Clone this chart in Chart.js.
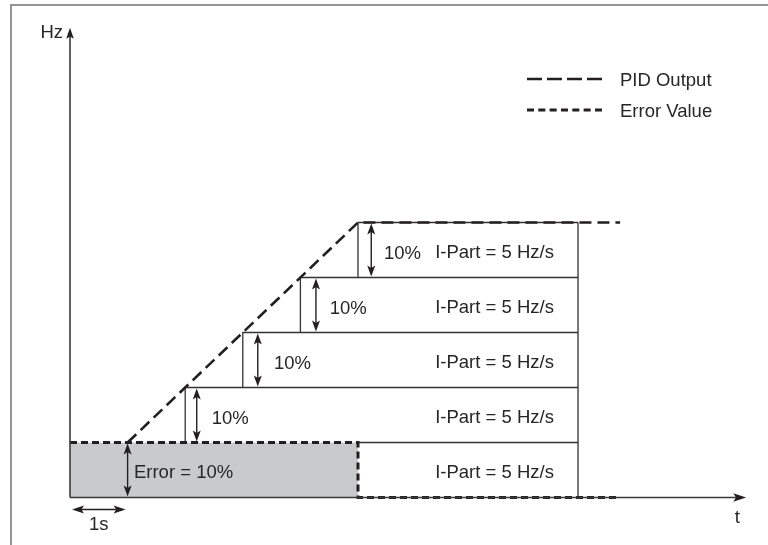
<!DOCTYPE html>
<html>
<head>
<meta charset="utf-8">
<script src="https://cdn.jsdelivr.net/npm/chart.js@4/dist/chart.umd.min.js"></script>
<style>
html,body{margin:0;padding:0;background:#fff;}
#wrap{width:768px;height:545px;position:relative;}
</style>
</head>
<body>
<div id="wrap"><canvas id="c" width="768" height="545"></canvas></div>
<script>
// ---- data (time in s, output in 10% steps) ----
const timeAxisEnd = 11.74;
const hzAxisEnd = 8.54;
const pidTime = [1, 5, 9.55];
const pidLevel = [1, 5, 5];
const errTime = [0, 5, 5, 9.5];
const errLevel = [1, 1, 0, 0];
const stepTime = [2, 3, 4, 5];
const stepFrom = [1, 2, 3, 4];
const boxEnd = 8.82;
const arrowTime = [1.0, 2.2, 3.26, 4.27, 5.23];
const arrowFrom = [0, 1, 2, 3, 4];
const pctTime = [2.46, 3.54, 4.51, 5.45];
const pctLevel = [1, 2, 3, 4];
const pctText = "10%";
const errText = "Error = 10%";
const errTextTime = 1.11;
const iPartTime = 6.34;
const iPartLevel = [0, 1, 2, 3, 4];
const iPartText = "I-Part = 5 Hz/s";
const seriesNames = ["PID Output", "Error Value"];
const yAxisTitle = "Hz";
const xAxisTitle = "t";
const unitText = "1s";

const INK = '#231f20';
const TEXT = '#262626';
const FONT = '18.5px "Liberation Sans", Arial, sans-serif';

// box outline points (built from the arrays above)
const boxPts = [];
stepTime.forEach((t, i) => {
  boxPts.push({x: t, y: stepFrom[i]}, {x: t, y: stepFrom[i] + 1}, {x: boxEnd, y: stepFrom[i] + 1}, {x: t, y: null});
});
boxPts.push({x: errTime[2], y: errLevel[1]}, {x: boxEnd, y: errLevel[1]}, {x: boxEnd, y: null});
boxPts.push({x: boxEnd, y: 0}, {x: boxEnd, y: pidLevel[2]});

function head(ctx, x, y, dx, dy, len, half) {
  const px = -dy, py = dx;
  ctx.beginPath();
  ctx.moveTo(x, y);
  ctx.lineTo(x - dx * len + px * half, y - dy * len + py * half);
  ctx.lineTo(x - dx * len * 0.78, y - dy * len * 0.78);
  ctx.lineTo(x - dx * len - px * half, y - dy * len - py * half);
  ctx.closePath();
  ctx.fill();
}
function dblV(ctx, x, y1, y2) {
  ctx.beginPath(); ctx.moveTo(x, y1 + 4); ctx.lineTo(x, y2 - 4); ctx.stroke();
  head(ctx, x, y1, 0, -1, 11, 4);
  head(ctx, x, y2, 0, 1, 11, 4);
}

const diagram = {
  id: 'diagram',
  afterDatasetsDraw(chart) {
    const ctx = chart.ctx;
    const xs = chart.scales.x, ys = chart.scales.y;
    const X = v => xs.getPixelForValue(v), Y = v => ys.getPixelForValue(v);
    ctx.save();
    // frame
    ctx.strokeStyle = '#7a7a7a'; ctx.lineWidth = 1.6;
    ctx.strokeRect(11, 5, 800, 600);
    // axes
    ctx.strokeStyle = '#3a3a3a'; ctx.fillStyle = INK; ctx.lineWidth = 1.6;
    ctx.beginPath(); ctx.moveTo(X(0), Y(0)); ctx.lineTo(X(0), Y(hzAxisEnd) + 6); ctx.stroke();
    head(ctx, X(0), Y(hzAxisEnd), 0, -1, 11, 3.8);
    ctx.beginPath(); ctx.moveTo(X(0), Y(0)); ctx.lineTo(X(timeAxisEnd) - 6, Y(0)); ctx.stroke();
    head(ctx, X(timeAxisEnd), Y(0), 1, 0, 13, 4.2);
    // vertical double arrows
    ctx.strokeStyle = INK; ctx.fillStyle = INK; ctx.lineWidth = 1.4;
    arrowTime.forEach((t, i) => dblV(ctx, X(t), Y(arrowFrom[i] + 1) + 1, Y(arrowFrom[i]) - 1));
    // 1s arrow
    const ay = Y(0) + 12;
    ctx.beginPath(); ctx.moveTo(X(0) + 6, ay); ctx.lineTo(X(1) - 6, ay); ctx.stroke();
    head(ctx, X(0) + 2, ay, -1, 0, 12, 4);
    head(ctx, X(1) - 2, ay, 1, 0, 12, 4);
    // texts
    ctx.fillStyle = TEXT; ctx.font = FONT; ctx.textBaseline = 'alphabetic'; ctx.textAlign = 'left';
    pctTime.forEach((t, i) => ctx.fillText(pctText, X(t), Y(pctLevel[i] + 0.33)));
    iPartLevel.forEach(l => ctx.fillText(iPartText, X(iPartTime), Y(l + 0.355)));
    ctx.fillText(errText, X(errTextTime), Y(0.355));
    ctx.textAlign = 'right';
    ctx.fillText(yAxisTitle, X(0) - 7, 38);
    ctx.textAlign = 'center';
    ctx.fillText(unitText, X(0.5), Y(0) + 32);
    ctx.fillText(xAxisTitle, X(timeAxisEnd) - 9, Y(0) + 25);
    // legend
    const ds = chart.data.datasets;
    const legY = [79, 110];
    const legDash = [[15, 5], [7, 4.33]];
    [0, 1].forEach(i => {
      ctx.strokeStyle = ds[i].borderColor; ctx.lineWidth = ds[i].borderWidth;
      ctx.setLineDash(legDash[i]);
      ctx.beginPath(); ctx.moveTo(527, legY[i]); ctx.lineTo(602, legY[i]); ctx.stroke();
      ctx.setLineDash([]);
      ctx.fillStyle = TEXT; ctx.textAlign = 'left';
      ctx.fillText(ds[i].label, 620, legY[i] + 7);
    });
    ctx.restore();
  }
};

new Chart(document.getElementById('c'), {
  type: 'line',
  data: {
    datasets: [
      {
        label: seriesNames[0],
        data: pidTime.map((t, i) => ({x: t, y: pidLevel[i]})),
        borderColor: INK, borderWidth: 2.6, borderDash: [12, 6],
        pointRadius: 0, fill: false, tension: 0, clip: false
      },
      {
        label: seriesNames[1],
        data: errTime.map((t, i) => ({x: t, y: errLevel[i]})),
        borderColor: INK, borderWidth: 3, borderDash: [7, 4],
        backgroundColor: '#c9cacc', fill: 'origin',
        pointRadius: 0, tension: 0, clip: false
      },
      {
        label: 'boxes',
        data: boxPts,
        borderColor: '#333333', borderWidth: 1.3,
        pointRadius: 0, fill: false, tension: 0, spanGaps: false, clip: false
      }
    ]
  },
  options: {
    responsive: false,
    animation: false,
    events: [],
    layout: {padding: {left: 70, right: 768 - 70 - 12 * 57.6, top: 497.5 - 8.5 * 55, bottom: 545 - 497.5}},
    scales: {
      x: {type: 'linear', min: 0, max: 12, display: false},
      y: {type: 'linear', min: 0, max: 8.5, display: false}
    },
    plugins: {legend: {display: false}, tooltip: {enabled: false}}
  },
  plugins: [diagram]
});
</script>
</body>
</html>
